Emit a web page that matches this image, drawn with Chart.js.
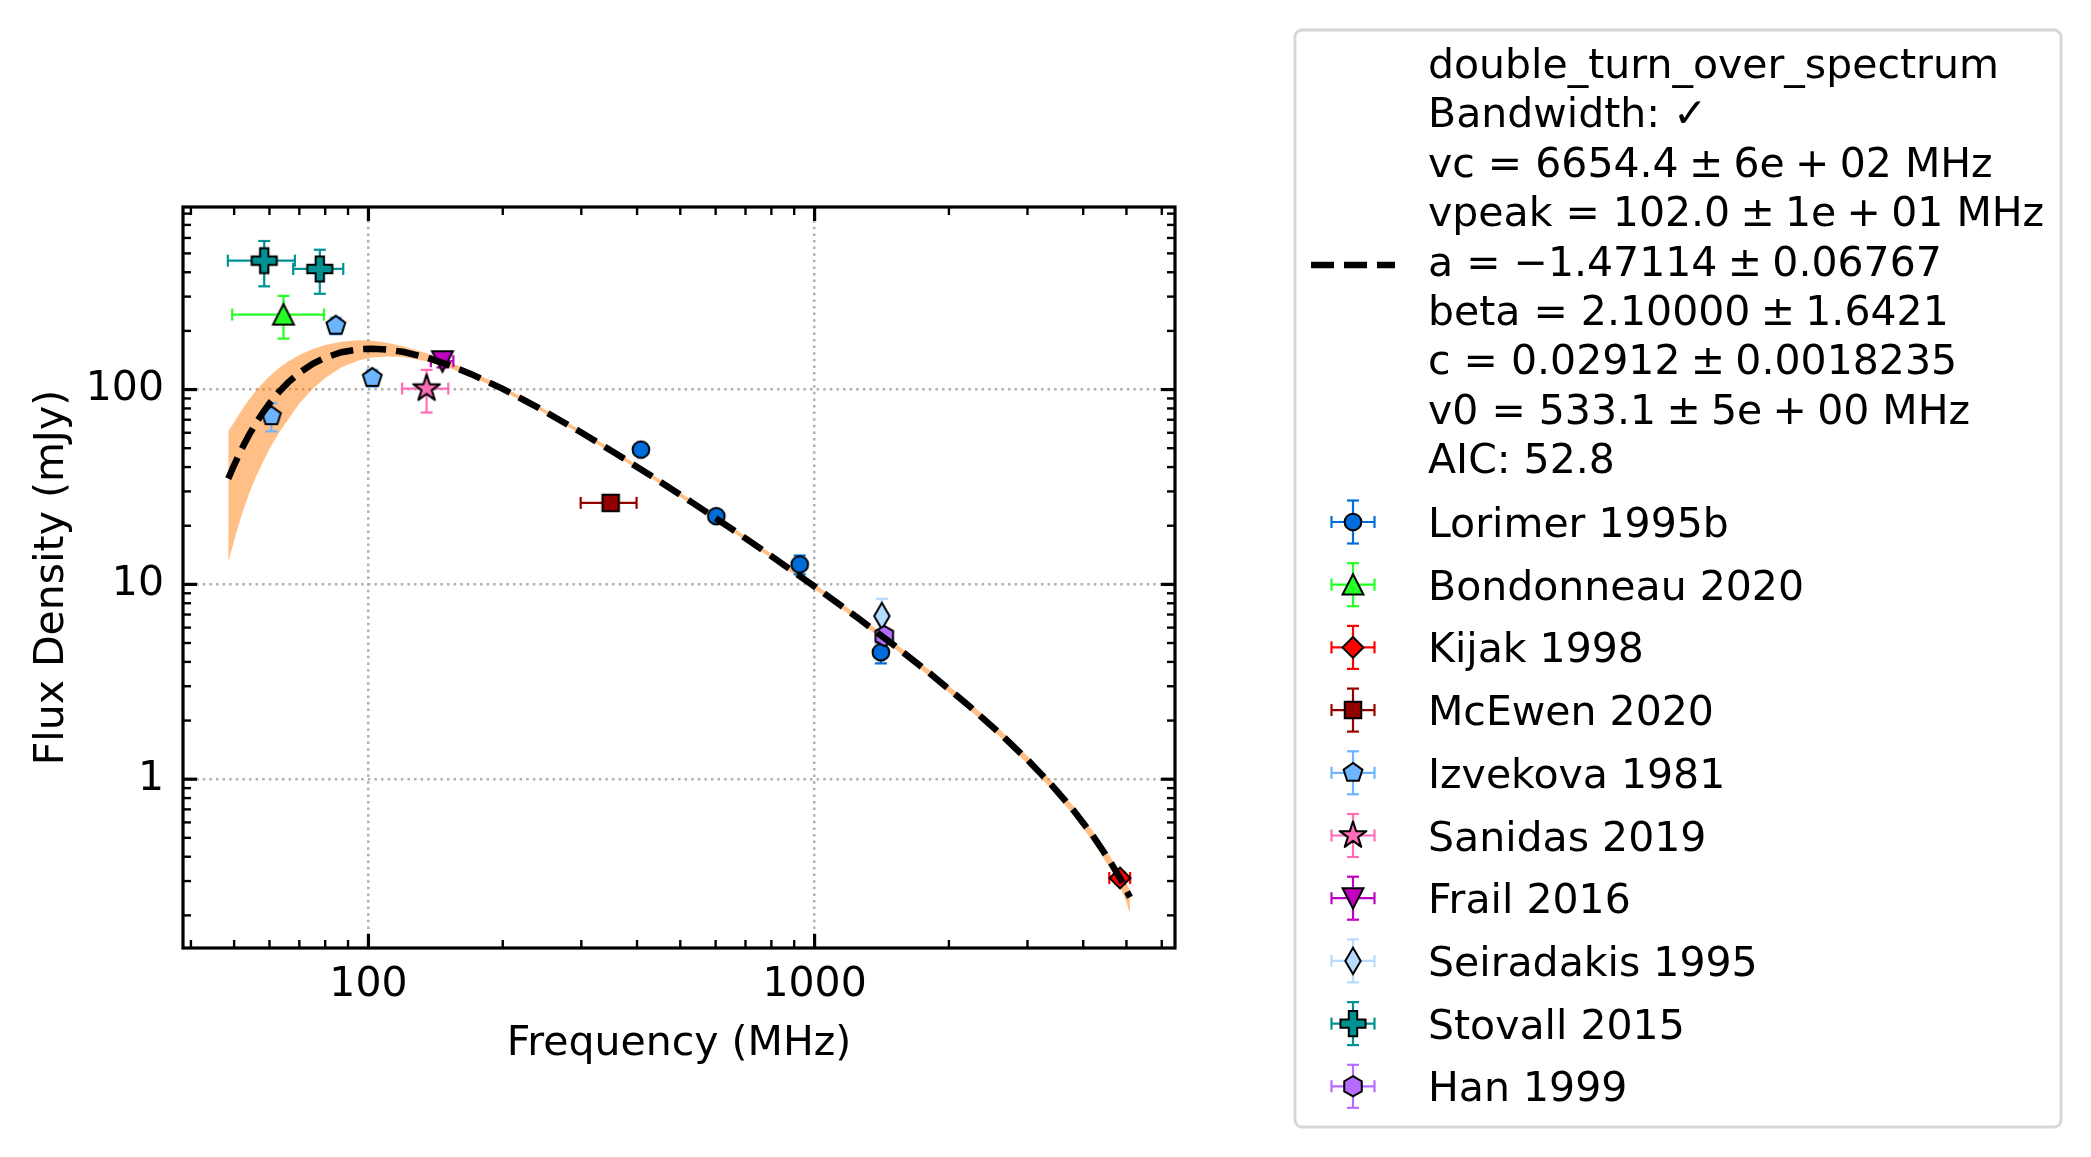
<!DOCTYPE html>
<html>
<head>
<meta charset="utf-8">
<title>double_turn_over_spectrum</title>
<script src="https://cdn.jsdelivr.net/npm/chart.js@4.4.1/dist/chart.umd.min.js"></script>
<style>
  html, body { margin: 0; padding: 0; background: #ffffff; }
  #wrap { width: 2091px; height: 1157px; }
</style>
</head>
<body>
<div id="wrap"><canvas id="spectrum" width="2091" height="1157"></canvas></div>
<script>
const fitFreq = [48.5, 50, 52, 54, 56, 58, 60, 63, 66, 70, 75, 80, 87, 95, 102, 110, 120, 135, 150, 170,
    200, 240, 300, 360, 430, 533, 650, 800, 1000, 1250, 1500, 1800, 2200, 2600, 3000, 3400, 3800, 4200, 4600, 4850,
    5000, 5090];
const fitFlux = [34.9, 41.0, 49.6, 58.5, 67.4, 76.2, 84.9, 97.2, 108.5, 121.9, 135.5, 145.8, 155.5, 160.9, 162.1, 160.5, 155.8, 145.8, 134.6, 120.0,
    100.8, 80.8, 60.2, 46.7, 36.1, 26.2, 19.35, 13.97, 9.75, 6.73, 4.91, 3.54, 2.42, 1.72, 1.26, 0.932, 0.694, 0.515, 0.377, 0.307,
    0.269, 0.248];
const fitHigh = [61, 68, 78.5, 89, 99, 108, 117, 129, 139.5, 150.5, 161.5, 169.5, 176, 179, 178, 174, 166.5, 153.5, 140, 124,
    103.6, 82.8, 61.6, 47.9, 37.0, 26.9, 19.85, 14.35, 10.04, 6.94, 5.08, 3.67, 2.52, 1.80, 1.315, 0.977, 0.729, 0.544, 0.400, 0.328,
    0.291, 0.270];
const fitLow = [13.0, 16.8, 22.8, 29.2, 35.8, 42.4, 49.5, 59.8, 70.0, 84.8, 101.0, 114.6, 130.0, 141.0, 146.2, 148.0, 146.8, 139.7, 130.4, 116.8,
    98.5, 78.9, 58.8, 45.6, 35.2, 25.5, 18.85, 13.6, 9.46, 6.51, 4.74, 3.41, 2.32, 1.65, 1.20, 0.885, 0.656, 0.480, 0.347, 0.276,
    0.234, 0.203];

const fitLabelLines = [
    'double_turn_over_spectrum',
    'Bandwidth: \u2713',
    'vc = 6654.4\u2005\u00b1\u20056e\u2005+\u200502 MHz',
    'vpeak = 102.0\u2005\u00b1\u20051e\u2005+\u200501 MHz',
    'a = \u22121.47114\u2005\u00b1\u20050.06767',
    'beta = 2.10000\u2005\u00b1\u20051.6421',
    'c = 0.02912\u2005\u00b1\u20050.0018235',
    'v0 = 533.1\u2005\u00b1\u20055e\u2005+\u200500 MHz',
    'AIC: 52.8'
];

// ---- measurements, one set of arrays per reference ----
const lorimerFreq = [408, 602, 926, 1408];
const lorimerFlux = [49.2, 22.4, 12.66, 4.48];
const lorimerFreqErr = [0, 0, 0, 0];
const lorimerFluxErr = [3, 1.5, 1.4, 0.55];

const bondonneauFreq = [64.5];
const bondonneauFlux = [242.5];
const bondonneauFreqErr = [15];
const bondonneauFluxErr = [60];

const kijakFreq = [4836];
const kijakFlux = [0.311];
const kijakFreqErr = [260];
const kijakFluxErr = [0.02];

const mcewenFreq = [349];
const mcewenFlux = [26.2];
const mcewenFreqErr = [50];
const mcewenFluxErr = [2];

const izvekovaFreq = [60.6, 84.5, 102];
const izvekovaFlux = [73, 212.8, 114.8];
const izvekovaFreqErr = [0, 0, 0];
const izvekovaFluxErr = [12, 21, 11.5];

const sanidasFreq = [135];
const sanidasFlux = [101.2];
const sanidasFreqErr = [16];
const sanidasFluxErr = [25];

const frailFreq = [146.5];
const frailFlux = [139.8];
const frailFreqErr = [8.5];
const frailFluxErr = [10];

const seiradakisFreq = [1415];
const seiradakisFlux = [6.88];
const seiradakisFreqErr = [0];
const seiradakisFluxErr = [1.55];

const stovallFreq = [58.4, 77.8];
const stovallFlux = [458.7, 416];
const stovallFreqErr = [10, 10];
const stovallFluxErr = [120, 106];

const hanFreq = [1433];
const hanFlux = [5.43];
const hanFreqErr = [0];
const hanFluxErr = [0.4];

// ---- axis ticks ----
const xTickValues = [40, 50, 60, 70, 80, 90, 100, 200, 300, 400, 500, 600, 700, 800, 900, 1000, 2000, 3000, 4000, 5000, 6000];
const xTickLabels = { 100: '100', 1000: '1000' };
const yTickValues = [0.2, 0.3, 0.4, 0.5, 0.6, 0.7, 0.8, 0.9, 1, 2, 3, 4, 5, 6, 7, 8, 9, 10,
    20, 30, 40, 50, 60, 70, 80, 90, 100, 200, 300, 400, 500, 600, 700, 800];
const yTickLabels = { 1: '1', 10: '10', 100: '100' };

const FONT = "'DejaVu Sans', sans-serif";
const FONT_SIZE = 41;
const MS = 1.1; // marker scale

// ---- marker drawing (matplotlib-like symbols) ----
function poly(ctx, x, y, pts) {
    pts.forEach((p, i) => i ? ctx.lineTo(x + p[0] * MS, y + p[1] * MS) : ctx.moveTo(x + p[0] * MS, y + p[1] * MS));
    ctx.closePath();
}

function ring(n, r, start) {
    const pts = [];
    for (let k = 0; k < n; k++) {
        const a = (start + k * 360 / n) * Math.PI / 180;
        pts.push([r * Math.cos(a), r * Math.sin(a)]);
    }
    return pts;
}

function tracePath(ctx, shape, x, y) {
    ctx.beginPath();
    switch (shape) {
        case 'circle':
            ctx.arc(x, y, 7.6 * MS, 0, 2 * Math.PI);
            break;
        case 'triangleUp':
            poly(ctx, x, y, [[0, -9.5], [-9.5, 9], [9.5, 9]]);
            break;
        case 'triangleDown':
            poly(ctx, x, y, [[0, 9.5], [-9.5, -9], [9.5, -9]]);
            break;
        case 'square':
            poly(ctx, x, y, [[-7.5, -7.5], [7.5, -7.5], [7.5, 7.5], [-7.5, 7.5]]);
            break;
        case 'diamond':
            poly(ctx, x, y, [[0, -9.5], [9.5, 0], [0, 9.5], [-9.5, 0]]);
            break;
        case 'thinDiamond':
            poly(ctx, x, y, [[0, -12], [7, 0], [0, 12], [-7, 0]]);
            break;
        case 'pentagon':
            poly(ctx, x, y, ring(5, 9, -90));
            break;
        case 'hexagon':
            poly(ctx, x, y, ring(6, 9.2, -90));
            break;
        case 'star': {
            const pts = [];
            for (let k = 0; k < 10; k++) {
                const r = k % 2 ? 4.9 : 12.8;
                const a = (-90 + k * 36) * Math.PI / 180;
                pts.push([r * Math.cos(a), r * Math.sin(a)]);
            }
            poly(ctx, x, y, pts);
            break;
        }
        case 'plus': {
            const u = 3.8;
            const base = [[-1, -3], [1, -3], [1, -1], [3, -1], [3, 1], [1, 1], [1, 3], [-1, 3], [-1, 1], [-3, 1], [-3, -1], [-1, -1]];
            poly(ctx, x, y, base.map(p => [p[0] * u, p[1] * u]));
            break;
        }
    }
}

function drawMarker(ctx, shape, x, y, fill) {
    ctx.save();
    tracePath(ctx, shape, x, y);
    ctx.fillStyle = fill;
    ctx.fill();
    ctx.lineWidth = 2;
    ctx.lineJoin = shape === 'star' ? 'round' : 'miter';
    ctx.strokeStyle = '#000000';
    ctx.stroke();
    ctx.restore();
}

function markerCanvas(shape, fill) {
    const c = document.createElement('canvas');
    c.width = 36;
    c.height = 36;
    drawMarker(c.getContext('2d'), shape, 18, 18, fill);
    return c;
}

// ---- series description (names, colours, symbols) ----
const refNames = ['Lorimer 1995b', 'Bondonneau 2020', 'Kijak 1998', 'McEwen 2020', 'Izvekova 1981',
    'Sanidas 2019', 'Frail 2016', 'Seiradakis 1995', 'Stovall 2015', 'Han 1999'];
const refColors = ['#006ddb', '#24ff24', '#ff0000', '#920000', '#6db6ff',
    '#ff6db6', '#bf00bf', '#b6dbff', '#009292', '#b66dff'];
const refShapes = ['circle', 'triangleUp', 'diamond', 'square', 'pentagon',
    'star', 'triangleDown', 'thinDiamond', 'plus', 'hexagon'];
const refFreq = [lorimerFreq, bondonneauFreq, kijakFreq, mcewenFreq, izvekovaFreq,
    sanidasFreq, frailFreq, seiradakisFreq, stovallFreq, hanFreq];
const refFlux = [lorimerFlux, bondonneauFlux, kijakFlux, mcewenFlux, izvekovaFlux,
    sanidasFlux, frailFlux, seiradakisFlux, stovallFlux, hanFlux];
const refFreqErr = [lorimerFreqErr, bondonneauFreqErr, kijakFreqErr, mcewenFreqErr, izvekovaFreqErr,
    sanidasFreqErr, frailFreqErr, seiradakisFreqErr, stovallFreqErr, hanFreqErr];
const refFluxErr = [lorimerFluxErr, bondonneauFluxErr, kijakFluxErr, mcewenFluxErr, izvekovaFluxErr,
    sanidasFluxErr, frailFluxErr, seiradakisFluxErr, stovallFluxErr, hanFluxErr];

const markerImages = refShapes.map((s, i) => markerCanvas(s, refColors[i]));

const pairs = (xs, ys) => xs.map((v, i) => ({ x: v, y: ys[i] }));

const datasets = [
    {
        label: 'band high',
        data: pairs(fitFreq, fitHigh),
        showLine: true,
        borderWidth: 0,
        borderColor: 'rgba(0,0,0,0)',
        pointRadius: 0,
        backgroundColor: 'rgba(255,127,14,0.5)',
        fill: '+1',
        order: 100
    },
    {
        label: 'band low',
        data: pairs(fitFreq, fitLow),
        showLine: true,
        borderWidth: 0,
        borderColor: 'rgba(0,0,0,0)',
        pointRadius: 0,
        fill: false,
        order: 101
    },
    {
        label: 'fit',
        data: pairs(fitFreq, fitFlux),
        showLine: true,
        borderColor: '#000000',
        borderWidth: 6.5,
        borderDash: [23, 10],
        pointRadius: 0,
        fill: false,
        order: 0
    }
];

refNames.forEach((name, i) => {
    datasets.push({
        label: name,
        data: pairs(refFreq[i], refFlux[i]),
        showLine: false,
        pointStyle: markerImages[i],
        pointRadius: 9,
        errX: refFreqErr[i],
        errY: refFluxErr[i],
        errColor: refColors[i],
        order: 50 - i
    });
});

// ---- plugins ----
function capLine(ctx, x0, y0, x1, y1) {
    ctx.beginPath();
    ctx.moveTo(x0, y0);
    ctx.lineTo(x1, y1);
    ctx.stroke();
}

const errorBars = {
    id: 'errorBars',
    beforeDatasetDraw(chart, args) {
        const ds = chart.data.datasets[args.index];
        if (!ds.errX) return;
        const { ctx } = chart;
        const xs = chart.scales.x, ys = chart.scales.y;
        ctx.save();
        ctx.strokeStyle = ds.errColor;
        ctx.lineWidth = 2.2;
        ds.data.forEach((p, i) => {
            const px = xs.getPixelForValue(p.x);
            const py = ys.getPixelForValue(p.y);
            const ex = ds.errX[i], ey = ds.errY[i];
            if (ex > 0) {
                const a = xs.getPixelForValue(p.x - ex), b = xs.getPixelForValue(p.x + ex);
                capLine(ctx, a, py, b, py);
                capLine(ctx, a, py - 6, a, py + 6);
                capLine(ctx, b, py - 6, b, py + 6);
            }
            if (ey > 0) {
                const a = ys.getPixelForValue(p.y - ey), b = ys.getPixelForValue(p.y + ey);
                capLine(ctx, px, a, px, b);
                capLine(ctx, px - 6, a, px + 6, a);
                capLine(ctx, px - 6, b, px + 6, b);
            }
        });
        ctx.restore();
    }
};

const frameAndTicks = {
    id: 'frameAndTicks',
    afterDatasetsDraw(chart) {
        const { ctx, chartArea: ca } = chart;
        const xs = chart.scales.x, ys = chart.scales.y;
        ctx.save();
        ctx.strokeStyle = '#000000';
        ctx.lineCap = 'butt';
        xTickValues.forEach(v => {
            const px = xs.getPixelForValue(v);
            const major = !!xTickLabels[v];
            const len = major ? 14 : 8;
            ctx.lineWidth = major ? 3.2 : 2.4;
            capLine(ctx, px, ca.bottom, px, ca.bottom - len);
            capLine(ctx, px, ca.top, px, ca.top + len);
        });
        yTickValues.forEach(v => {
            const py = ys.getPixelForValue(v);
            const major = !!yTickLabels[v];
            const len = major ? 14 : 8;
            ctx.lineWidth = major ? 3.2 : 2.4;
            capLine(ctx, ca.left, py, ca.left + len, py);
            capLine(ctx, ca.right, py, ca.right - len, py);
        });
        ctx.lineWidth = 3.2;
        ctx.lineJoin = 'miter';
        ctx.strokeRect(ca.left, ca.top, ca.right - ca.left, ca.bottom - ca.top);
        ctx.restore();
    }
};

function roundRect(ctx, x, y, w, h, r) {
    ctx.beginPath();
    ctx.moveTo(x + r, y);
    ctx.arcTo(x + w, y, x + w, y + h, r);
    ctx.arcTo(x + w, y + h, x, y + h, r);
    ctx.arcTo(x, y + h, x, y, r);
    ctx.arcTo(x, y, x + w, y, r);
    ctx.closePath();
}

const legendBox = {
    id: 'legendBox',
    afterDraw(chart) {
        const ctx = chart.ctx;
        ctx.save();
        roundRect(ctx, 1295, 30, 766, 1097, 7);
        ctx.fillStyle = '#ffffff';
        ctx.fill();
        ctx.lineWidth = 2.8;
        ctx.strokeStyle = '#d6d6d6';
        ctx.stroke();

        ctx.font = FONT_SIZE + 'px ' + FONT;
        ctx.fillStyle = '#000000';
        ctx.textAlign = 'left';
        ctx.textBaseline = 'alphabetic';
        fitLabelLines.forEach((t, i) => ctx.fillText(t, 1428, 78 + i * 49.4));

        // dashed handle for the fit
        ctx.strokeStyle = '#000000';
        ctx.lineWidth = 6.5;
        ctx.setLineDash([23, 10]);
        capLine(ctx, 1311, 265, 1395, 265);
        ctx.setLineDash([]);

        refNames.forEach((name, i) => {
            const cy = 522 + i * 62.7;
            const cx = 1353;
            ctx.strokeStyle = refColors[i];
            ctx.lineWidth = 2.2;
            capLine(ctx, cx - 21.5, cy, cx + 21.5, cy);
            capLine(ctx, cx - 21.5, cy - 6, cx - 21.5, cy + 6);
            capLine(ctx, cx + 21.5, cy - 6, cx + 21.5, cy + 6);
            capLine(ctx, cx, cy - 21.5, cx, cy + 21.5);
            capLine(ctx, cx - 6, cy - 21.5, cx + 6, cy - 21.5);
            capLine(ctx, cx - 6, cy + 21.5, cx + 6, cy + 21.5);
            drawMarker(ctx, refShapes[i], cx, cy, refColors[i]);
            ctx.fillStyle = '#000000';
            ctx.fillText(name, 1428, cy + 15);
        });
        ctx.restore();
    }
};

// ---- chart ----
Chart.defaults.font.family = FONT;
Chart.defaults.font.size = FONT_SIZE;
Chart.defaults.color = '#000000';

const gridColor = labels => c => (c.tick && labels[c.tick.value]) ? '#b0b0b0' : 'rgba(0,0,0,0)';

new Chart(document.getElementById('spectrum'), {
    type: 'scatter',
    data: { datasets },
    plugins: [errorBars, frameAndTicks, legendBox],
    options: {
        responsive: false,
        devicePixelRatio: 1,
        animation: false,
        events: [],
        layout: { padding: { left: 0, top: 207, right: 916, bottom: 0 } },
        plugins: {
            legend: { display: false },
            tooltip: { enabled: false }
        },
        scales: {
            x: {
                type: 'logarithmic',
                min: 38.4,
                max: 6424,
                afterBuildTicks: scale => {
                    scale.ticks = xTickValues.map(v => ({ value: v }));
                },
                afterFit: scale => { scale.height = 209; },
                ticks: {
                    autoSkip: false,
                    maxRotation: 0,
                    padding: 13,
                    callback: v => xTickLabels[v] || ''
                },
                grid: { color: gridColor(xTickLabels), lineWidth: 2.5, drawTicks: false },
                border: { display: false, dash: [2.5, 4.1] },
                title: {
                    display: true,
                    text: 'Frequency (MHz)',
                    padding: { top: 0, bottom: 88 }
                }
            },
            y: {
                type: 'logarithmic',
                min: 0.136,
                max: 865,
                afterBuildTicks: scale => {
                    scale.ticks = yTickValues.map(v => ({ value: v }));
                },
                afterFit: scale => { scale.width = 183; },
                ticks: {
                    autoSkip: false,
                    padding: 19,
                    callback: v => yTickLabels[v] || ''
                },
                grid: { color: gridColor(yTickLabels), lineWidth: 2.5, drawTicks: false },
                border: { display: false, dash: [2.5, 4.1] },
                title: {
                    display: true,
                    text: 'Flux Density (mJy)',
                    padding: { top: 28, bottom: 0 }
                }
            }
        }
    }
});
</script>
</body>
</html>
